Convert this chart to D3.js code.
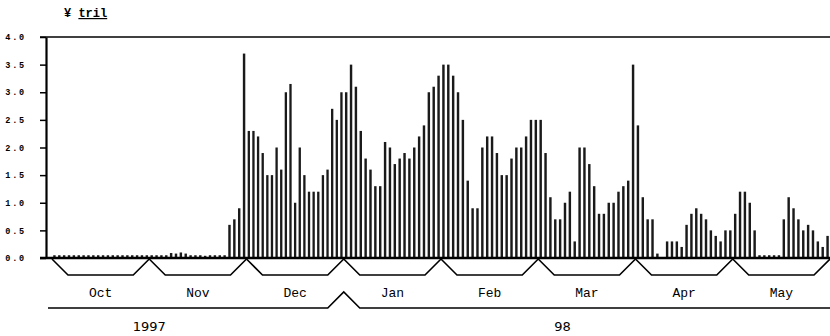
<!DOCTYPE html>
<html>
<head>
<meta charset="utf-8">
<script src="https://cdn.jsdelivr.net/npm/d3@7"></script>
<style>
  body { margin: 0; background: #fff; }
  svg { display: block; }
</style>
</head>
<body>
<script>
// daily values, ¥ trillion, one array per month
const oct = [0.05, 0.05, 0.05, 0.05, 0.05, 0.05, 0.05, 0.05, 0.05, 0.05,
  0.05, 0.05, 0.05, 0.05, 0.05, 0.05, 0.05, 0.05, 0.05, 0.05];
const nov = [0.05, 0.05, 0.05, 0.05, 0.09, 0.08, 0.1, 0.08, 0.05, 0.05,
  0.05, 0.04, 0.05, 0.05, 0.05, 0.05, 0.6, 0.7, 0.9, 3.7];
const dec = [2.3, 2.3, 2.2, 1.9, 1.5, 1.5, 2.0, 1.6, 3.0, 3.15, 1.0,
  2.0, 1.5, 1.2, 1.2, 1.2, 1.5, 1.6, 2.7, 2.5, 3.0];
const jan = [3.0, 3.5, 3.1, 2.3, 1.8, 1.6, 1.3, 1.3, 2.1, 2.0,
  1.7, 1.8, 1.9, 1.8, 2.0, 2.2, 2.4, 3.0, 3.1, 3.3];
const feb = [3.5, 3.5, 3.3, 3.0, 2.5, 1.4, 0.9, 0.9, 2.0, 2.2,
  2.2, 1.9, 1.5, 1.5, 1.8, 2.0, 2.0, 2.2, 2.5, 2.5];
const mar = [2.5, 1.9, 1.1, 0.7, 0.7, 1.0, 1.2, 0.3, 2.0, 2.0,
  1.7, 1.3, 0.8, 0.8, 1.0, 1.0, 1.2, 1.3, 1.4, 3.5];
const apr = [2.4, 1.1, 0.7, 0.7, 0.08, 0, 0.3, 0.3, 0.3, 0.2,
  0.6, 0.8, 0.9, 0.8, 0.7, 0.5, 0.4, 0.3, 0.5, 0.5];
const may = [0.8, 1.2, 1.2, 1.0, 0.5, 0.05, 0.05, 0.05, 0.05, 0.05,
  0.7, 1.1, 0.9, 0.7, 0.5, 0.6, 0.5, 0.3, 0.2, 0.4];

const monthNames = ['Oct', 'Nov', 'Dec', 'Jan', 'Feb', 'Mar', 'Apr', 'May'];
const monthValues = [oct, nov, dec, jan, feb, mar, apr, may];
const yTicks = [0, 0.5, 1, 1.5, 2, 2.5, 3, 3.5, 4];
// year label and where its bracket starts (in months from Oct 1997)
const years = [
  { label: '1997', start: 0, labelAt: 1.0 },
  { label: '98', start: 3, labelAt: 5.25 },
];

const width = 830;
const height = 336;
const marginTop = 37;
const marginBottom = 78;
const axisX = 46;
const plotLeft = 52;
const plotRight = 830;

const svg = d3
  .select('body')
  .append('svg')
  .attr('width', width)
  .attr('height', height)
  .attr('viewBox', [0, 0, width, height]);

const y = d3.scaleLinear().domain([0, 4]).range([height - marginBottom, marginTop]);
const baseY = y(0);

// months share the axis in equal slices
const xMonth = d3.scaleBand().domain(monthNames).range([plotLeft, plotRight]);
const xPos = d3.scaleLinear().domain([0, monthNames.length]).range([plotLeft, plotRight]);

// y axis title
const title = svg
  .append('text')
  .attr('x', 64)
  .attr('y', 17)
  .style('font-family', '"Liberation Mono", monospace')
  .style('font-weight', 'bold')
  .style('font-size', '12px');
title.append('tspan').text('¥ ');
title.append('tspan').style('text-decoration', 'underline').text('tril');

// top frame line
svg
  .append('line')
  .attr('x1', 40)
  .attr('x2', plotRight)
  .attr('y1', y(4))
  .attr('y2', y(4))
  .attr('stroke', '#000')
  .attr('stroke-width', 1.5);

// bars
monthNames.forEach((m, i) => {
  const values = monthValues[i];
  const inner = d3
    .scaleBand()
    .domain(d3.range(values.length))
    .range([xMonth(m), xMonth(m) + xMonth.bandwidth()])
    .paddingInner(0.5)
    .paddingOuter(0.25);
  svg
    .append('g')
    .selectAll('rect')
    .data(values)
    .join('rect')
    .attr('x', (d, j) => inner(j))
    .attr('width', inner.bandwidth())
    .attr('y', (d) => y(d))
    .attr('height', (d) => baseY - y(d))
    .attr('fill', '#1a1a1a');
});

// y axis
svg
  .append('g')
  .attr('transform', `translate(${axisX},0)`)
  .call(d3.axisLeft(y).tickValues(yTicks).tickFormat(d3.format('.1f')).tickSize(6).tickSizeOuter(0))
  .call((g) => g.select('.domain').attr('stroke-width', 2.2))
  .call((g) => g.selectAll('.tick line').attr('stroke-width', 1.5))
  .call((g) =>
    g
      .selectAll('.tick text')
      .attr('x', -20)
      .style('font-family', '"Liberation Mono", monospace')
      .style('font-weight', 'bold')
      .style('font-size', '8.5px')
      .style('letter-spacing', '1.8px')
  );

// baseline
svg
  .append('line')
  .attr('x1', 40)
  .attr('x2', plotRight)
  .attr('y1', baseY)
  .attr('y2', baseY)
  .attr('stroke', '#000')
  .attr('stroke-width', 2.5);

// month brackets
const dip = 17;
const run = 16;
const monthG = svg.append('g');
monthNames.forEach((m) => {
  const x0 = xMonth(m);
  const x1 = x0 + xMonth.bandwidth();
  const p = d3.path();
  p.moveTo(x0, baseY + 1);
  p.lineTo(x0 + run, baseY + dip);
  p.lineTo(x1 - run, baseY + dip);
  p.lineTo(x1, baseY + 1);
  monthG
    .append('path')
    .attr('d', p.toString())
    .attr('fill', 'none')
    .attr('stroke', '#000')
    .attr('stroke-width', 1.6);
  monthG
    .append('text')
    .attr('x', x0 + xMonth.bandwidth() / 2)
    .attr('y', 297)
    .attr('text-anchor', 'middle')
    .style('font-family', '"Liberation Mono", monospace')
    .style('font-size', '13px')
    .text(m);
});

// year bracket
const yearY = 308;
const yearPeak = 292;
const yp = d3.path();
yp.moveTo(xPos(0) - 4, yearY);
years.slice(1).forEach((yr) => {
  const xb = xPos(yr.start);
  yp.lineTo(xb - run, yearY);
  yp.lineTo(xb, yearPeak);
  yp.lineTo(xb + run, yearY);
});
yp.lineTo(plotRight, yearY);
svg
  .append('path')
  .attr('d', yp.toString())
  .attr('fill', 'none')
  .attr('stroke', '#000')
  .attr('stroke-width', 1.6);

svg
  .append('g')
  .selectAll('text')
  .data(years)
  .join('text')
  .attr('x', (d) => xPos(d.labelAt))
  .attr('y', 331)
  .attr('text-anchor', 'middle')
  .style('font-family', '"DejaVu Sans", sans-serif')
  .style('font-size', '13px')
  .text((d) => d.label);
</script>
</body>
</html>
